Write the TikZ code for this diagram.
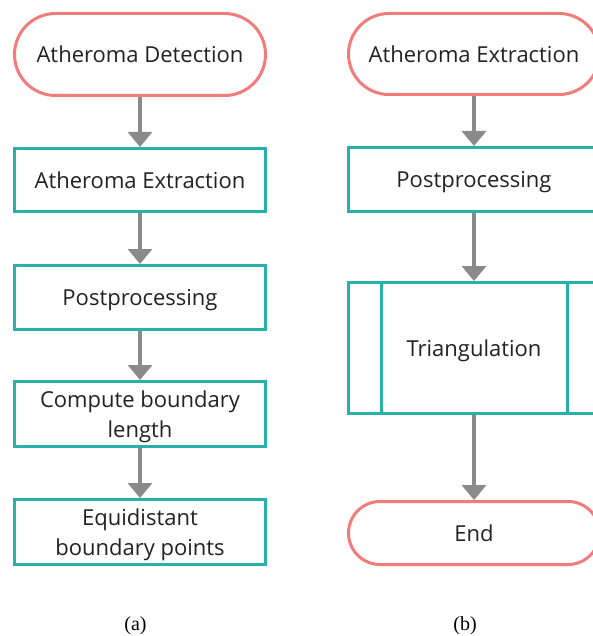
\documentclass[tikz,border=0pt]{standalone}
\usepackage{fontspec}
\newfontfamily\boxfont{Open Sans}
\newfontfamily\capfont{Liberation Serif}
\usetikzlibrary{arrows.meta}
\definecolor{termred}{HTML}{F27B7B}
\definecolor{procteal}{HTML}{2AB0AA}
\definecolor{flowgray}{HTML}{8A8A8A}
\definecolor{inktext}{HTML}{222222}
\tikzset{
  base/.style={draw, fill=white, line width=3pt, minimum width=251pt,
    align=center, text=inktext, inner sep=0pt, text depth=0pt,
    font=\boxfont\fontsize{22}{30}\selectfont},
  terminal/.style={base, draw=termred, rounded corners=#1},
  process/.style={base, draw=procteal},
  flow/.style={draw=flowgray, line width=3.5pt,
    -{Triangle[width=24pt,length=15pt]}},
  divider/.style={draw=procteal, line width=3pt},
  caption/.style={font=\capfont\fontsize{20}{24}\selectfont, text=black, inner sep=0pt}
}
\begin{document}
\begin{tikzpicture}[x=1pt, y=-1pt]
  \useasboundingbox (0,0) rectangle (593,636);
  \clip (0,0) rectangle (593,636);

  % column (a)
  \node[terminal=41pt, minimum height=82pt] (det) at (140,54.5) {Atheroma Detection};
  \node[process, minimum height=63pt] (ext) at (140,180) {Atheroma Extraction};
  \node[process, minimum height=64pt] (post) at (140,297.5) {Postprocessing};
  \node[process, minimum height=65pt] (comp) at (140,414) {Compute boundary\\length};
  \node[process, minimum height=65pt] (equi) at (140,532) {Equidistant\\boundary points};

  \draw[flow] (det) -- (ext);
  \draw[flow] (ext) -- (post);
  \draw[flow] (post) -- (comp);
  \draw[flow] (comp) -- (equi);

  \node[caption] (capa) at (135.5,626) {(a)};

  % column (b)
  \node[terminal=40.5pt, minimum height=81pt] (rext) at (474,54) {Atheroma Extraction};
  \node[process, minimum height=64pt] (rpost) at (474,179.5) {Postprocessing};
  \node[process, minimum height=131pt] (tri) at (474,348) {Triangulation};
  \draw[divider] ([xshift=34pt]tri.north west) -- ([xshift=34pt]tri.south west);
  \draw[divider] ([xshift=-34pt]tri.north east) -- ([xshift=-34pt]tri.south east);
  \node[terminal=31.5pt, minimum height=63pt] (stop) at (474,533) {End};

  \draw[flow] (rext) -- (rpost);
  \draw[flow] (rpost) -- (tri);
  \draw[flow] (tri) -- (stop);

  \node[caption] (capb) at (465,626) {(b)};
\end{tikzpicture}
\end{document}
